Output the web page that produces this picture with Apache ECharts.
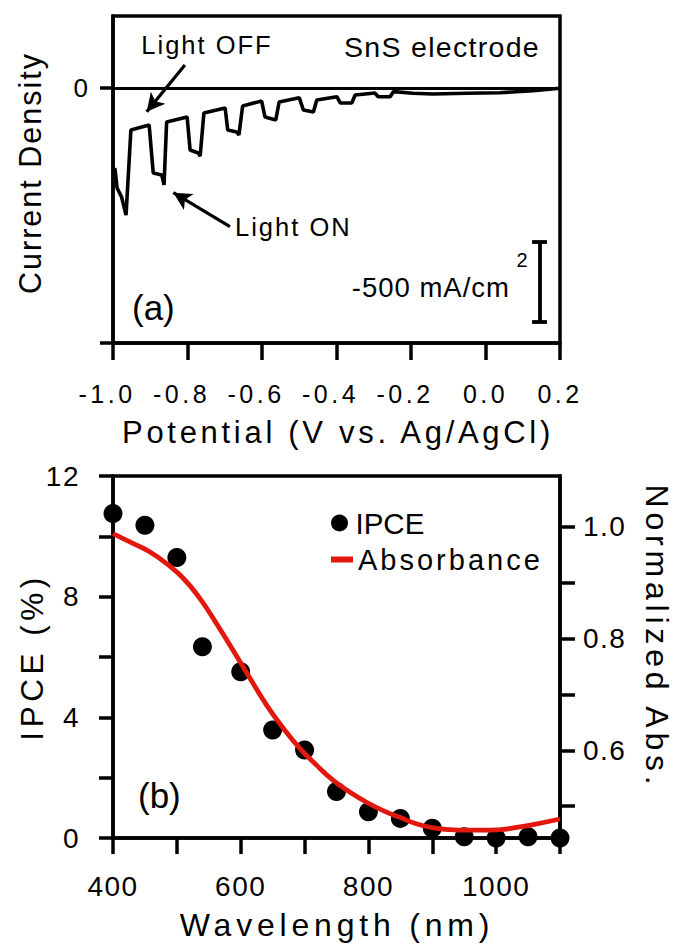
<!DOCTYPE html>
<html>
<head>
<meta charset="utf-8">
<script src="https://cdn.jsdelivr.net/npm/echarts@6/dist/echarts.min.js"></script>
<style>
html,body{margin:0;padding:0;background:#fff}
#c{width:677px;height:945px}
#c svg text[style*="25px"]{letter-spacing:3.5px}
#c svg text[style*="28px"]{letter-spacing:1.5px}
#c svg text[style*="29px"]{letter-spacing:3px}
#c svg text[style*="31px"]{letter-spacing:3.7px}
#c svg text[style*="30.5px"]{letter-spacing:2px}
#c svg text[style*="31.5px"]{letter-spacing:4.5px}
#c svg text[style*="32px"]{letter-spacing:4.8px}
#c svg text[style*="25.5px"]{letter-spacing:2px}
#c svg text[style*="28.5px"]{letter-spacing:1.3px}
#c svg text[style*="27.5px"]{letter-spacing:1px}
</style>
</head>
<body>
<div id="c"></div>
<script>
// ---- Panel (a): photocurrent vs potential ----
const potential = [-0.995,-0.989,-0.977,-0.965,-0.952,-0.903,-0.892,-0.869,-0.863,-0.856,-0.801,-0.793,-0.771,-0.766,-0.756,-0.699,-0.692,-0.668,-0.662,-0.652,-0.601,-0.592,-0.563,-0.554,-0.500,-0.489,-0.462,-0.453,-0.399,-0.390,-0.359,-0.350,-0.297,-0.288,-0.256,-0.247,-0.195,-0.141,-0.050,0.039,0.128,0.200];
const currentDensity = [-503,-628,-685,-798,-265,-233,-534,-547,-609,-214,-183,-390,-409,-428,-158,-126,-265,-277,-296,-114,-83,-183,-202,-89,-62,-139,-152,-76,-56,-95,-95,-45,-33,-56,-56,-24,-34,-39,-34,-31,-18,-3];
// annotation anchors in data units (V, mA/cm2)
const arrowOff = [[-0.807,143],[-0.9095,-150]];
const arrowOn = [[-0.686,-871],[-0.838,-658]];
const scaleBar = [[0.146,-967],[0.146,-1468]];
const scaleCapX = [0.125,0.165];

// ---- Panel (b): IPCE and absorbance ----
const wavelengthIPCE = [400,450,500,540,600,650,700,750,800,850,900,950,1000,1050,1100];
const ipce = [10.76,10.37,9.30,6.34,5.51,3.58,2.92,1.54,0.87,0.65,0.32,0.04,0,0.04,0];
const wavelengthAbs = [400,432,458,484,510,536,562,588,615,641,667,693,719,745,771,797,823,849,876,902,928,954,980,1006,1032,1058,1100];
const absorbance = [0.988,0.970,0.955,0.934,0.908,0.872,0.827,0.779,0.728,0.680,0.639,0.603,0.573,0.546,0.525,0.507,0.492,0.480,0.468,0.461,0.458,0.457,0.457,0.458,0.462,0.467,0.477];
const wavelengthLabels = [400,600,800,1000];
const ipceLabels = [0,4,8,12];
const absTicks = [0.5,0.6,0.7,0.8,0.9,1.0];
const absLabels = [0.6,0.8,1.0];

const FONT = '"Liberation Sans", Arial, Helvetica, sans-serif';
const zip = (a,b) => a.map((v,i)=>[v,b[i]]);
const AX = {color:'#000', width:3.5};

function txt(text, x, y, size, align, rot) {
  return {type:'text', x:x, y:y, rotation:rot||0, silent:true,
    style:{text:text, fontSize:size, fontFamily:FONT, fill:'#000',
      textAlign:align||'center', align:align||'center', textVerticalAlign:'middle', verticalAlign:'middle'}};
}

const chart = echarts.init(document.getElementById('c'), null, {renderer:'svg'});
chart.setOption({
  animation:false,
  backgroundColor:'#fff',
  textStyle:{fontFamily:FONT, color:'#000'},
  grid:[
    {left:113, top:16, width:447, height:327, show:true, borderColor:'#000', borderWidth:3.5, backgroundColor:'transparent'},
    {left:113, top:476, width:447, height:362, show:true, borderColor:'#000', borderWidth:3.5, backgroundColor:'transparent'}
  ],
  xAxis:[
    {gridIndex:0, type:'value', min:-1, max:0.2, interval:0.2,
      axisLine:{show:true, onZero:false, lineStyle:AX},
      axisTick:{show:true, inside:false, length:17, lineStyle:AX},
      axisLabel:{margin:38, fontSize:25, color:'#000', fontFamily:FONT,
        formatter:v => {
          if (Math.abs(v) < 1e-9) return '0.0';
          const s = v.toFixed(1);
          return v < 0 ? '{neg|' + s + '}' : s;
        },
        rich:{neg:{fontSize:25, fontFamily:FONT, color:'#000', padding:[0,12,0,0]}}},
      splitLine:{show:false}},
    {gridIndex:1, type:'value', min:400, max:1100, interval:100,
      axisLine:{show:true, onZero:false, lineStyle:AX},
      axisTick:{show:true, inside:false, length:16, lineStyle:AX},
      axisLabel:{customValues:wavelengthLabels, margin:34, fontSize:28, color:'#000', fontFamily:FONT,
        formatter:v => String(Math.round(v))},
      splitLine:{show:false}}
  ],
  yAxis:[
    {gridIndex:0, type:'value', min:-1600, max:450,
      axisLine:{show:true, onZero:false, lineStyle:AX},
      axisTick:{show:true, inside:false, length:13, customValues:[-1600,0], lineStyle:AX},
      axisLabel:{customValues:[0], margin:25, fontSize:26, color:'#000', fontFamily:FONT, formatter:()=> '0'},
      splitLine:{show:false}},
    {gridIndex:1, type:'value', min:0, max:12, interval:2,
      axisLine:{show:true, onZero:false, lineStyle:AX},
      axisTick:{show:true, inside:false, length:14, lineStyle:AX},
      axisLabel:{customValues:ipceLabels, margin:33, fontSize:28, color:'#000', fontFamily:FONT},
      splitLine:{show:false}},
    {gridIndex:1, type:'value', position:'right', min:0.443, max:1.091,
      axisLine:{show:true, onZero:false, lineStyle:AX},
      axisTick:{show:true, inside:false, length:15, customValues:absTicks, lineStyle:AX},
      axisLabel:{customValues:absLabels, margin:23, fontSize:28, color:'#000', fontFamily:FONT,
        formatter:v => v.toFixed(1)},
      splitLine:{show:false}}
  ],
  legend:[
    {data:[{name:'IPCE', icon:'circle'}], left:331, top:508, padding:0, itemWidth:22, itemHeight:17,
      selectedMode:false, textStyle:{fontSize:29.5, color:'#000', fontFamily:FONT}},
    {data:[{name:'Absorbance', icon:'rect'}], left:331, top:545, padding:0, itemWidth:22, itemHeight:6,
      selectedMode:false, textStyle:{fontSize:29, color:'#000', fontFamily:FONT}}
  ],
  series:[
    {name:'Current', type:'line', xAxisIndex:0, yAxisIndex:0, data:zip(potential,currentDensity),
      symbol:'none', showSymbol:false, smooth:false, lineStyle:{color:'#000', width:3.6}, itemStyle:{color:'#000'},
      emphasis:{disabled:true}, z:3,
      markLine:{silent:true, animation:false, symbol:['none','none'], label:{show:false},
        lineStyle:{color:'#000', width:3.2, type:'solid'}, emphasis:{disabled:true},
        data:[
          [{coord:[-1.0,0]},{coord:[0.2,0]}],
          [{coord:arrowOff[0]},{coord:arrowOff[1], symbol:'arrow', symbolSize:[14,18]}],
          [{coord:arrowOn[0]},{coord:arrowOn[1], symbol:'arrow', symbolSize:[14,18]}],
          [{coord:scaleBar[0], lineStyle:{width:3.8}},{coord:scaleBar[1]}],
          [{coord:[scaleCapX[0],scaleBar[0][1]], lineStyle:{width:3.8}},{coord:[scaleCapX[1],scaleBar[0][1]]}],
          [{coord:[scaleCapX[0],scaleBar[1][1]], lineStyle:{width:3.8}},{coord:[scaleCapX[1],scaleBar[1][1]]}]
        ]}},
    {name:'IPCE', type:'scatter', xAxisIndex:1, yAxisIndex:1, data:zip(wavelengthIPCE,ipce),
      symbol:'circle', symbolSize:19, itemStyle:{color:'#000', opacity:1}, clip:false, emphasis:{disabled:true}, z:2},
    {name:'Absorbance', type:'line', xAxisIndex:1, yAxisIndex:2, data:zip(wavelengthAbs,absorbance),
      symbol:'none', showSymbol:false, smooth:0.5, lineStyle:{color:'#e2170d', width:4.8},
      itemStyle:{color:'#e2170d'}, emphasis:{disabled:true}, z:4}
  ],
  graphic:[
    txt('Current Density', 30, 173, 30.5, 'center', Math.PI/2),
    txt('Potential (V vs. Ag/AgCl)', 338, 432, 31, 'center'),
    txt('IPCE (%)', 32, 657, 31.5, 'center', Math.PI/2),
    txt('Wavelength (nm)', 337, 925, 32, 'center'),
    txt('Normalized Abs.', 657, 637, 32, 'center', -Math.PI/2),
    txt('Light OFF', 207, 45, 25.5, 'center'),
    txt('SnS electrode', 540, 47, 28.5, 'right'),
    txt('Light ON', 235, 227, 25.5, 'left'),
    txt('(a)', 132, 307, 35, 'left'),
    txt('(b)', 138, 795, 35, 'left'),
    txt('-500 mA/cm', 510, 287, 27.5, 'right'),
    txt('2', 522, 260, 20, 'center')
  ]
});
</script>
</body>
</html>
